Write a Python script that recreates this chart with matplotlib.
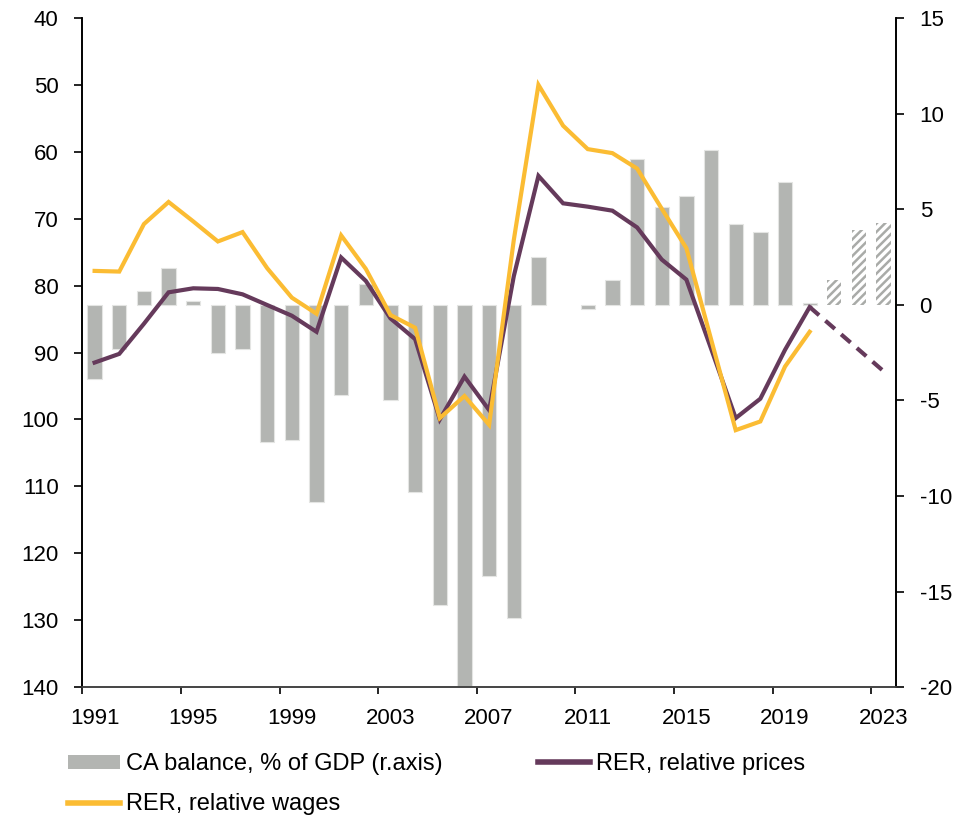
import matplotlib
matplotlib.use("Agg")
import matplotlib.pyplot as plt
from matplotlib.patches import Patch
from matplotlib.lines import Line2D
import numpy as np

plt.rcParams["font.family"] = ["Liberation Sans", "DejaVu Sans"]
plt.rcParams["axes.unicode_minus"] = False
plt.rcParams["hatch.linewidth"] = 1.8

# Annual data
years = list(range(1991, 2024))
ca_balance = [-3.9, -2.3, 0.7, 1.9, 0.2, -2.5, -2.3, -7.2, -7.1, -10.3,
              -4.7, 1.1, -5.0, -9.8, -15.7, -20.1, -14.2, -16.4, 2.5, 0.0,
              -0.2, 1.3, 7.6, 5.1, 5.7, 8.1, 4.2, 3.8, 6.4, 0.1,
              1.3, 3.9, 4.3]
ca_forecast_from = 2021

rer_years = list(range(1991, 2021))
rer_prices = [91.5, 90.2, 85.7, 81.0, 80.4, 80.5, 81.3, 82.9, 84.5, 86.9,
              75.8, 79.3, 84.9, 88.0, 100.0, 93.6, 98.6, 78.6, 63.6, 67.7,
              68.2, 68.8, 71.3, 76.1, 79.1, 89.4, 99.8, 96.9, 89.6, 83.2]
rer_wages = [77.8, 77.9, 70.8, 67.5, 70.4, 73.4, 72.0, 77.4, 81.8, 84.2,
             72.5, 77.5, 84.4, 86.3, 99.8, 96.5, 100.8, 73.2, 50.0, 56.1,
             59.6, 60.2, 62.5, 68.5, 74.4, 88.0, 101.6, 100.3, 92.1, 86.9]
fc_years = [2020, 2021, 2022, 2023]
rer_prices_fc = [83.2, 86.4, 89.6, 92.8]

left_ticks = list(range(40, 141, 10))
right_ticks = list(range(-20, 16, 5))
label_years = list(range(1991, 2024, 4))

GREY = "#B3B5B2"
HATCH_GREY = "#A9ABA8"
PURPLE = "#653A5B"
YELLOW = "#FBBC33"
FS = 16
LEG_FS = 17

fig = plt.figure(figsize=(9.76, 8.17), dpi=100)
ax = fig.add_axes([0.0843, 0.159, 0.918 - 0.0843, 0.978 - 0.159])
ax2 = ax.twinx()

# Bars (right axis, drawn underneath the lines)
yrs = np.array(years)
vals = np.array(ca_balance)
hist = (yrs < ca_forecast_from) & (vals != 0)
fcst = yrs >= ca_forecast_from
ax.bar(yrs[hist], vals[hist], width=0.58, color=GREY,
       edgecolor="#E4E5E3", linewidth=0.8, zorder=2)
ax.bar(yrs[fcst], vals[fcst], width=0.58, color="white",
       edgecolor=HATCH_GREY, hatch="////", linewidth=0, zorder=2)
ax.set_ylim(-20, 15)
ax.set_yticks(right_ticks)
ax.set_yticklabels([str(t) for t in right_ticks])
ax.yaxis.tick_right()
ax.yaxis.set_label_position("right")

# Lines (left axis, inverted)
ax2.plot(rer_years, rer_prices, color=PURPLE, lw=3.0, zorder=3,
         solid_joinstyle="miter")
ax2.plot(fc_years, rer_prices_fc, color=PURPLE, lw=3.0, ls=(0, (3, 2)),
         zorder=3)
ax2.plot(rer_years, rer_wages, color=YELLOW, lw=3.0, zorder=4,
         solid_joinstyle="miter")
ax2.set_ylim(140, 40)
ax2.set_yticks(left_ticks)
ax2.set_yticklabels([str(t) for t in left_ticks])
ax2.yaxis.tick_left()
ax2.yaxis.set_label_position("left")

ax.set_xlim(1990.5, 2023.5)
for a in (ax, ax2):
    a.spines["top"].set_visible(False)
    a.spines["left"].set_color("black")
    a.spines["right"].set_color("black")
    a.spines["bottom"].set_color("#444444")
    for s in ("left", "right", "bottom"):
        a.spines[s].set_linewidth(1.2)

ax.set_xticks(np.arange(1990.5, 2023.6, 4))
ax.set_xticklabels([])
ax.set_xticks(label_years, minor=True)
ax.set_xticklabels([str(y) for y in label_years], minor=True, fontsize=FS)
ax.tick_params(axis="x", which="major", direction="out", length=5, width=1.2)
ax.tick_params(axis="x", which="minor", length=0, pad=15)
ax.tick_params(axis="y", direction="out", length=6, width=1.2, pad=11,
               labelsize=FS, right=True, left=False)
ax2.tick_params(axis="y", direction="out", length=6, width=1.2, pad=11,
                labelsize=FS, left=True, right=False)

# Legend: two columns placed independently
leg_kw = dict(loc="upper left", frameon=False, fontsize=LEG_FS,
              handlelength=2.2, handleheight=0.52, handletextpad=0.25,
              labelspacing=0.78, borderpad=0, borderaxespad=0)
leg_top = 1 - 753 / 817
fig.legend([Patch(facecolor=GREY, edgecolor="none"),
            Line2D([0], [0], color=YELLOW, lw=4)],
           ["CA balance, % of GDP (r.axis)", "RER, relative wages"],
           bbox_to_anchor=(68 / 976, leg_top), **leg_kw)
fig.legend([Line2D([0], [0], color=PURPLE, lw=4)],
           ["RER, relative prices"],
           bbox_to_anchor=(538 / 976, leg_top), **leg_kw)

fig.savefig("out.png", dpi=100)
